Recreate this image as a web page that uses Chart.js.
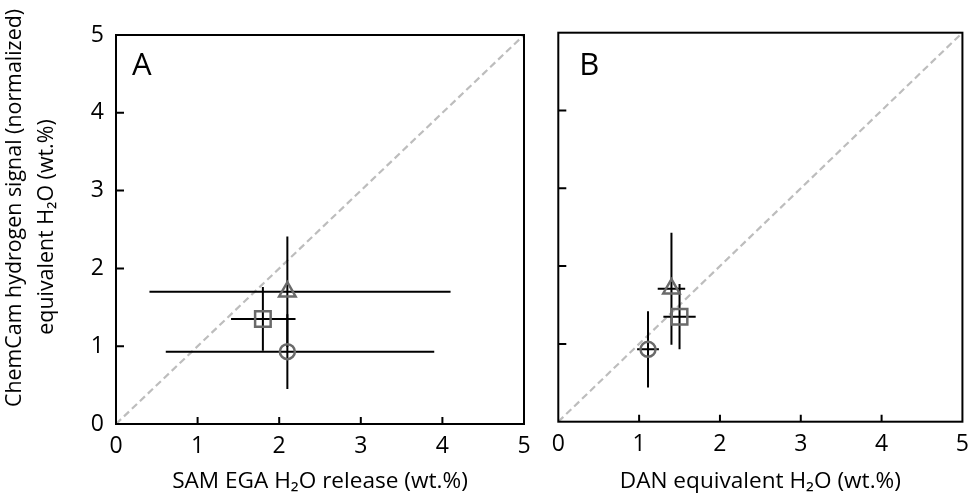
<!DOCTYPE html>
<html><head><meta charset="utf-8">
<script src="https://cdn.jsdelivr.net/npm/chart.js@4.4.1/dist/chart.umd.min.js"></script>
<style>
html,body{margin:0;padding:0;background:#fff;}
#wrap{position:relative;width:978px;height:500px;overflow:hidden;background:#fff;}
#cA{position:absolute;left:0;top:0;}
#cB{position:absolute;left:540px;top:0;}
</style></head><body>
<div id="wrap"><canvas id="cA" width="540" height="500"></canvas><canvas id="cB" width="438" height="500"></canvas></div>
<script>
// ---------- data ----------
const tickValues = [0, 1, 2, 3, 4, 5];
const innerTicks = [1, 2, 3, 4];
const sampleNames = ['Sample (triangle)', 'Sample (square)', 'Sample (circle)'];
const sampleShapes = ['triangle', 'rect', 'circle'];

// Panel A: SAM EGA H2O release vs ChemCam
const samX      = [2.10, 1.80, 2.10];
const samXLow   = [0.41, 1.41, 0.61];
const samXHigh  = [4.10, 2.20, 3.90];
const ccAY      = [1.70, 1.35, 0.93];
const ccAYErr   = [0.71, 0.41, 0.48];

// Panel B: DAN equivalent H2O vs ChemCam
const danX      = [1.40, 1.50, 1.11];
const danXErr   = [0.17, 0.20, 0.135];
const ccBY      = [1.71, 1.35, 0.93];
const ccBYErr   = [0.72, 0.42, 0.49];

const oneToOne  = [0, 5];

const xTitleA = 'SAM EGA H\u2082O release (wt.%)';
const xTitleB = 'DAN equivalent H\u2082O (wt.%)';
const yTitle1 = 'ChemCam hydrogen signal (normalized)';
const yTitle2 = 'equivalent H\u2082O (wt.%)';
const panelLetters = ['A', 'B'];

// ---------- styling ----------
const FONT = '"Open Sans", Lato, sans-serif';
const MARK = '#6a6a6a';
const radii = { triangle: 9.5, rect: 11, circle: 7.5 };

const panelPlugin = {
  id: 'panel',
  afterDatasetDraw(chart, args, o) {
    if (args.index !== 3) return; // draw error bars right after the 1:1 line
    const ctx = chart.ctx, xs = chart.scales.x, ys = chart.scales.y;
    ctx.save();
    ctx.strokeStyle = '#000'; ctx.lineWidth = 2; ctx.lineCap = 'butt';
    for (let i = 0; i < o.x.length; i++) {
      const px = xs.getPixelForValue(o.x[i]), py = ys.getPixelForValue(o.y[i]);
      ctx.beginPath();
      ctx.moveTo(xs.getPixelForValue(o.xLo[i]), py);
      ctx.lineTo(xs.getPixelForValue(o.xHi[i]), py);
      ctx.moveTo(px, ys.getPixelForValue(o.y[i] - o.yErr[i]));
      ctx.lineTo(px, ys.getPixelForValue(o.y[i] + o.yErr[i]));
      ctx.stroke();
    }
    ctx.restore();
  },
  afterDraw(chart, args, o) {
    const ctx = chart.ctx, a = chart.chartArea, xs = chart.scales.x, ys = chart.scales.y;
    ctx.save();
    ctx.strokeStyle = '#000'; ctx.lineWidth = 2;
    ctx.strokeRect(a.left, a.top, a.right - a.left, a.bottom - a.top);
    ctx.beginPath();
    innerTicks.forEach(v => {
      const px = xs.getPixelForValue(v);
      ctx.moveTo(px, a.bottom); ctx.lineTo(px, a.bottom - 7);
      const py = ys.getPixelForValue(v);
      ctx.moveTo(a.left, py); ctx.lineTo(a.left + 8, py);
    });
    ctx.stroke();
    ctx.fillStyle = '#000';
    ctx.font = '31px ' + FONT;
    ctx.textAlign = 'left'; ctx.textBaseline = 'alphabetic';
    ctx.fillText(o.letter, a.left + o.letterDx, 74.5);
    if (o.yTitle) {
      ctx.font = '21.4px ' + FONT;
      ctx.textAlign = 'center'; ctx.textBaseline = 'middle';
      ctx.save(); ctx.translate(15, 208); ctx.rotate(-Math.PI / 2);
      ctx.fillText(yTitle1, 0, 0); ctx.restore();
      ctx.save(); ctx.translate(47, 227); ctx.rotate(-Math.PI / 2);
      ctx.fillText(yTitle2, 0, 0); ctx.restore();
    }
    ctx.restore();
  }
};

function makeChart(id, xVals, xLo, xHi, yVals, yErr, xTitle, letter, showY, dims) {
  const datasets = sampleNames.map((n, i) => ({
    label: n,
    type: 'scatter',
    data: [{ x: xVals[i], y: yVals[i] }],
    pointStyle: sampleShapes[i],
    pointRadius: radii[sampleShapes[i]],
    pointHoverRadius: radii[sampleShapes[i]],
    pointBorderColor: MARK,
    pointBackgroundColor: 'rgba(0,0,0,0)',
    pointBorderWidth: 2.5,
    order: 0
  }));
  datasets.push({
    label: '1:1',
    type: 'line',
    data: oneToOne.map(v => ({ x: v, y: v })),
    borderColor: '#bdbdbd',
    borderWidth: 2.2,
    borderDash: [7, 4],
    pointRadius: 0,
    fill: false,
    order: 10
  });
  return new Chart(document.getElementById(id), {
    type: 'scatter',
    data: { datasets },
    options: {
      responsive: false, animation: false, devicePixelRatio: 1,
      layout: { padding: { top: dims.top, right: dims.right, left: 0, bottom: 0 } },
      plugins: {
        legend: { display: false }, tooltip: { enabled: false },
        panel: { x: xVals, y: yVals, xLo, xHi, yErr, letter, yTitle: showY, letterDx: dims.letterDx }
      },
      scales: {
        x: {
          type: 'linear', min: 0, max: 5,
          afterBuildTicks: s => { s.ticks = tickValues.map(v => ({ value: v })); },
          afterFit: s => { s.height = dims.xh; },
          grid: { display: false, drawTicks: false },
          border: { display: false },
          ticks: { padding: 9, color: '#000', font: { family: FONT, size: 23 } },
          title: { display: true, text: xTitle, color: '#000', padding: { top: 0, bottom: 5 },
                   font: { family: FONT, size: 22.6 } }
        },
        y: {
          type: 'linear', min: 0, max: 5,
          afterBuildTicks: s => { s.ticks = tickValues.map(v => ({ value: v })); },
          afterFit: s => { s.width = dims.yw; },
          grid: { display: false, drawTicks: false },
          border: { display: false },
          ticks: { display: showY, padding: 12, color: '#000', font: { family: FONT, size: 23 } }
        }
      }
    },
    plugins: [panelPlugin]
  });
}

makeChart('cA', samX, samXLow, samXHigh, ccAY, ccAYErr, xTitleA, panelLetters[0], true,
  { top: 35, right: 16, xh: 76, yw: 116, letterDx: 16 });
makeChart('cB', danX, danX.map((v, i) => v - danXErr[i]), danX.map((v, i) => v + danXErr[i]),
  ccBY, ccBYErr, xTitleB, panelLetters[1], false,
  { top: 32.7, right: 6.3, xh: 78.3, yw: 18.3, letterDx: 21 });
</script>
</body></html>
